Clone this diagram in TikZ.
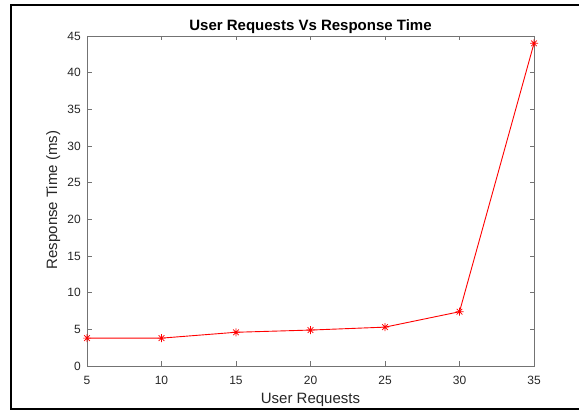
\documentclass[tikz,border=0pt]{standalone}
\usepackage{fontspec}
\setmainfont{Liberation Sans}
\usetikzlibrary{plotmarks}

% MATLAB-like asterisk: plus and cross together
\pgfdeclareplotmark{matstar}{%
  \pgfpathmoveto{\pgfqpoint{0pt}{\pgfplotmarksize}}%
  \pgfpathlineto{\pgfqpoint{0pt}{-\pgfplotmarksize}}%
  \pgfpathmoveto{\pgfqpoint{\pgfplotmarksize}{0pt}}%
  \pgfpathlineto{\pgfqpoint{-\pgfplotmarksize}{0pt}}%
  \pgfpathmoveto{\pgfqpoint{.707\pgfplotmarksize}{.707\pgfplotmarksize}}%
  \pgfpathlineto{\pgfqpoint{-.707\pgfplotmarksize}{-.707\pgfplotmarksize}}%
  \pgfpathmoveto{\pgfqpoint{-.707\pgfplotmarksize}{.707\pgfplotmarksize}}%
  \pgfpathlineto{\pgfqpoint{.707\pgfplotmarksize}{-.707\pgfplotmarksize}}%
  \pgfusepathqstroke}

\tikzset{
  axisline/.style = {black!55, line width=0.7pt},
  ticklbl/.style  = {inner sep=0pt, text=black!85, font=\fontsize{12}{12}\selectfont},
  axlbl/.style    = {inner sep=0pt, text=black!85, font=\fontsize{15}{15}\selectfont}
}

\begin{document}
\begin{tikzpicture}[x=1pt, y=1pt]
  \useasboundingbox (0,0) rectangle (579,410);
  \draw [line width=2pt] (590,405) -- (11,405) -- (11,1) -- (590,1);

  \begin{scope}[shift={(12.5pt,44pt)}, x=14.9pt, y=7.3333pt]
    \draw [axisline] (5,0) rectangle (35,45);
    \foreach \t in {5,10,...,35} {
      \draw [axisline] (\t,0) -- ++(0pt,4.5pt);
      \draw [axisline] (\t,45) -- ++(0pt,-4.5pt);
      \node [ticklbl, anchor=north, yshift=-10pt] (xt\t) at (\t,0) {\t};
    }
    \foreach \t in {0,5,...,45} {
      \draw [axisline] (5,\t) -- ++(4.5pt,0pt);
      \draw [axisline] (35,\t) -- ++(-4.5pt,0pt);
      \node [ticklbl, anchor=east, xshift=-6pt] (yt\t) at (5,\t) {\t};
    }

    \draw [red, line width=0.9pt, mark=matstar, mark size=4pt, mark options={line width=0.7pt}]
      plot coordinates {(5,3.8) (10,3.8) (15,4.6) (20,4.9) (25,5.3) (30,7.4) (35,44)};
  \end{scope}

  \node [axlbl, anchor=base, font=\bfseries\fontsize{15}{15}\selectfont, text=black] (title) at (310.5,379) {User Requests Vs Response Time};
  \node [axlbl, anchor=base] (xlabel) at (310.5,6) {User Requests};
  \node [axlbl, anchor=base, rotate=90] (ylabel) at (57,210) {Response Time (ms)};
\end{tikzpicture}
\end{document}
